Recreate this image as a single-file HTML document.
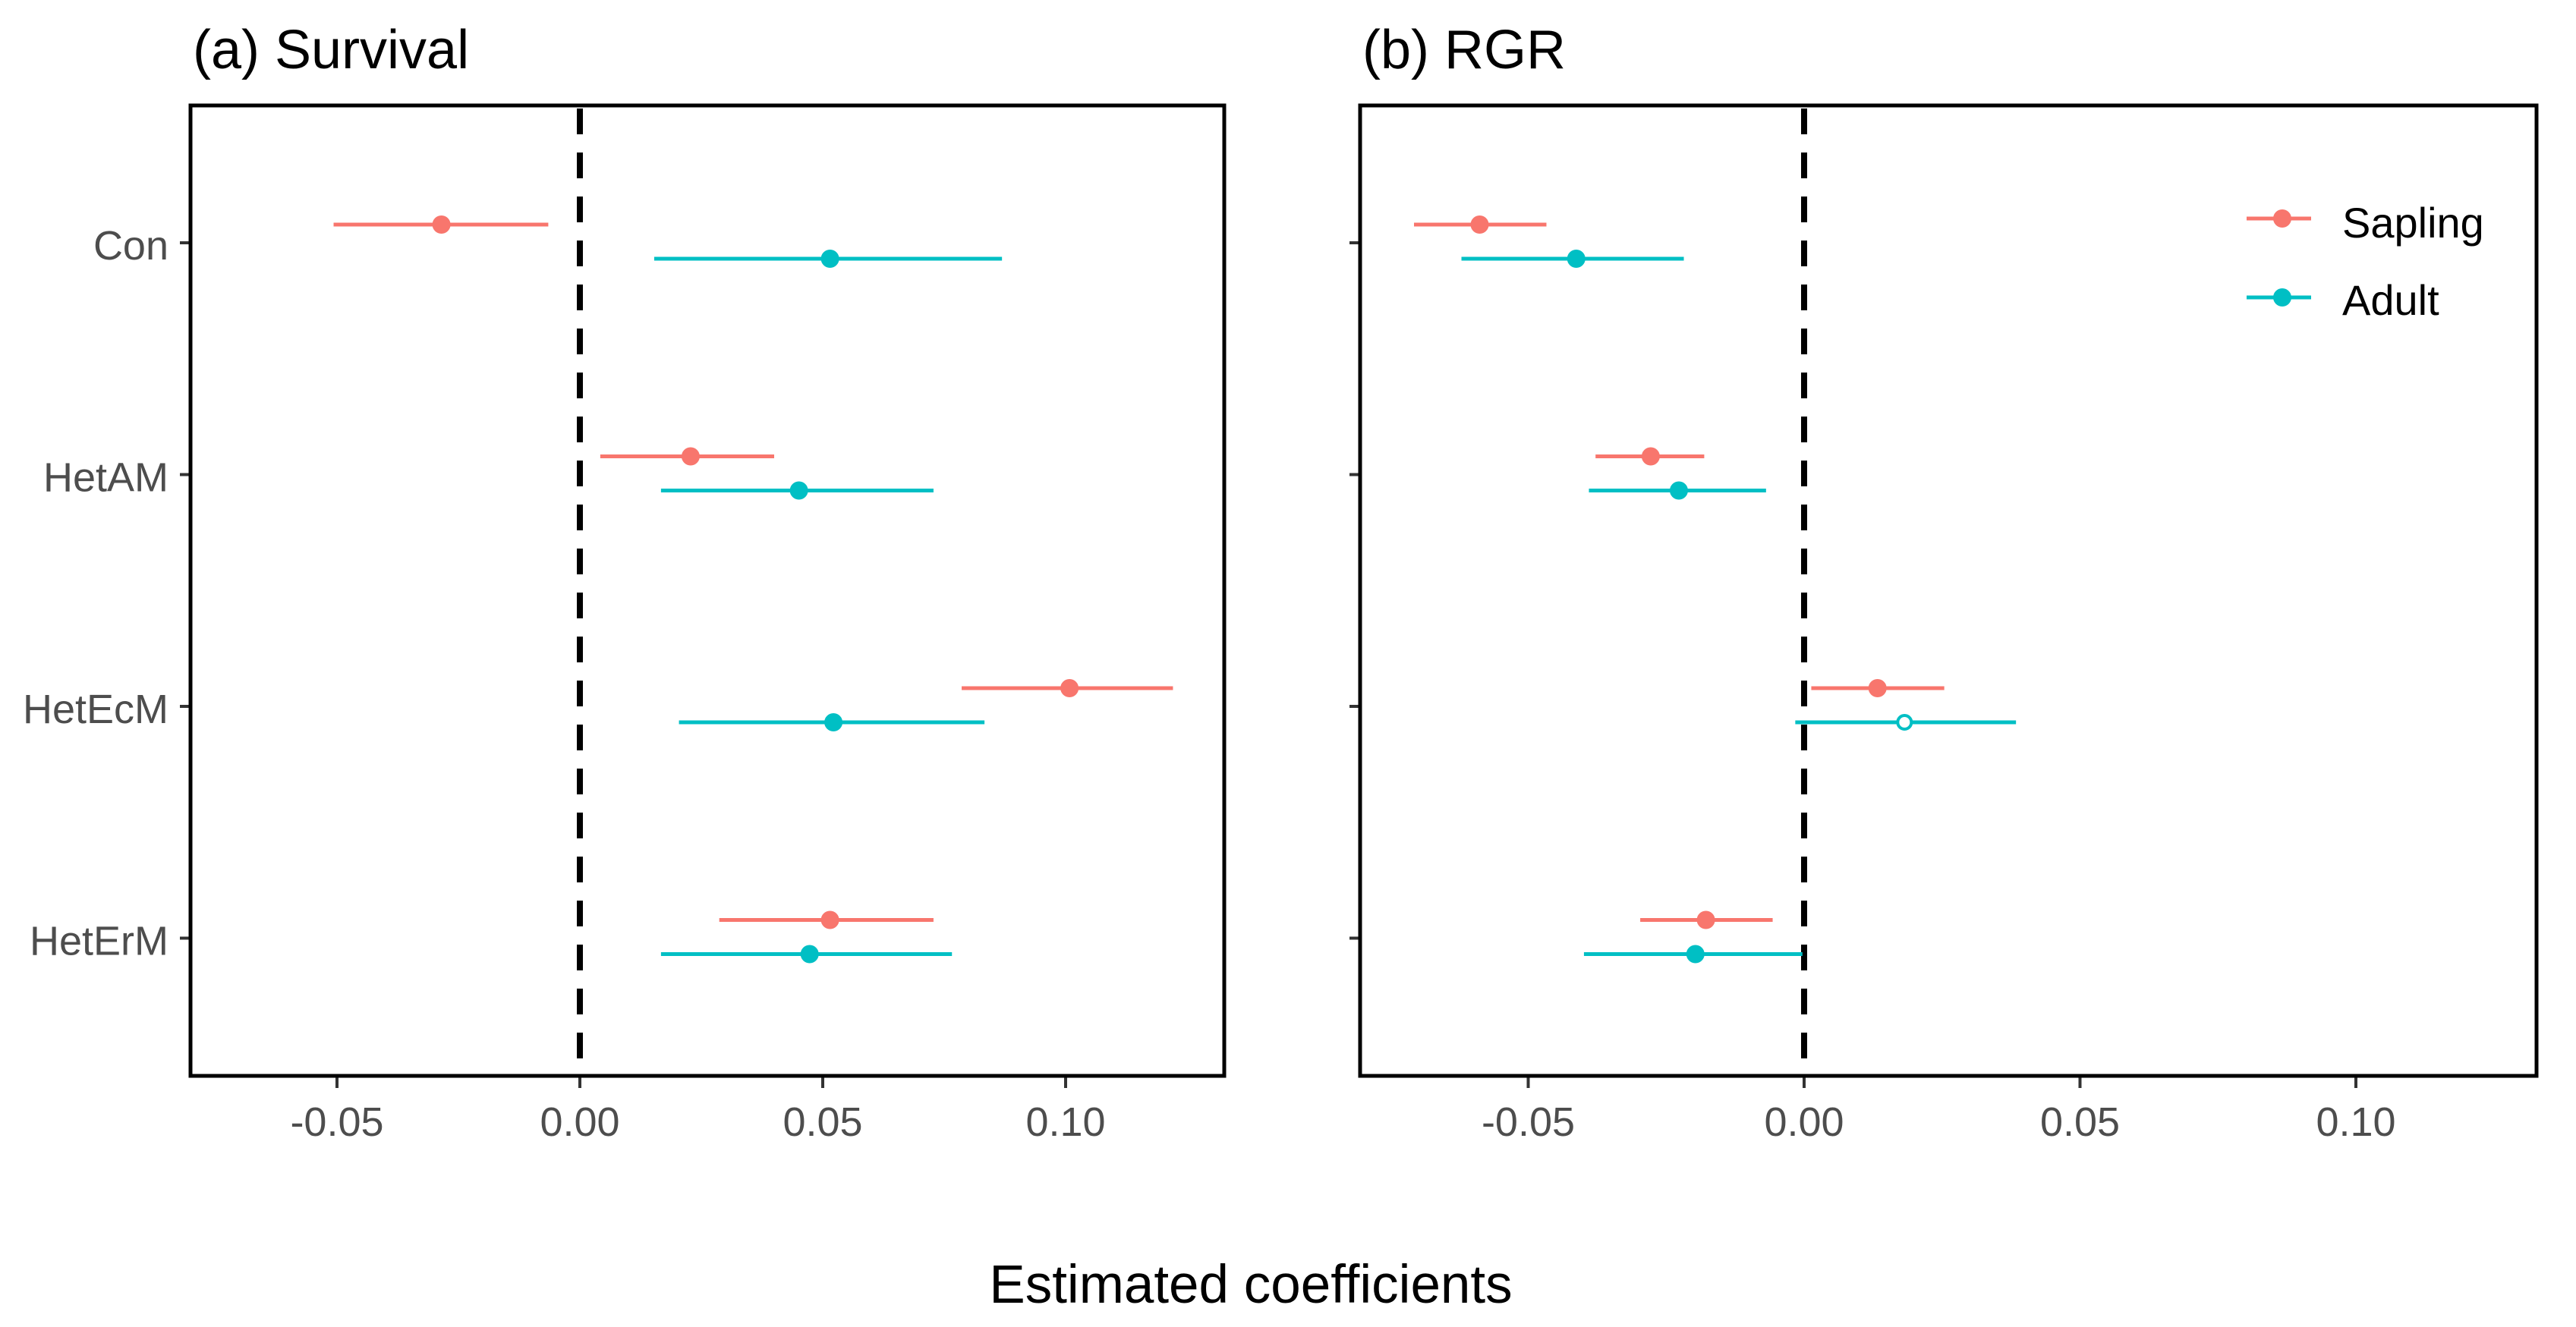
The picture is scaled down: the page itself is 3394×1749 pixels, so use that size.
<!DOCTYPE html>
<html><head><meta charset="utf-8"><style>
html,body{margin:0;padding:0;background:#fff}
svg{display:block}
text{font-family:"Liberation Sans",Arial,sans-serif}
</style></head><body>
<svg id="chart" width="3394" height="1749" viewBox="0 0 3394 1749" xmlns="http://www.w3.org/2000/svg"></svg>
<script>
const categories = ["Con","HetAM","HetEcM","HetErM"];
const xTicks = [-0.05, 0.00, 0.05, 0.10];
const xTickLabels = ["-0.05","0.00","0.05","0.10"];
const survSapEst = [-0.0285, 0.0228, 0.1008, 0.0515];
const survSapLo  = [-0.0507, 0.0042, 0.0786, 0.0287];
const survSapHi  = [-0.0065, 0.0400, 0.1221, 0.0728];
const survAduEst = [0.0515, 0.0451, 0.0522, 0.0473];
const survAduLo  = [0.0153, 0.0167, 0.0204, 0.0167];
const survAduHi  = [0.0869, 0.0728, 0.0833, 0.0766];
const rgrSapEst = [-0.0588, -0.0278, 0.0133, -0.0178];
const rgrSapLo  = [-0.0707, -0.0378, 0.0013, -0.0297];
const rgrSapHi  = [-0.0467, -0.0181, 0.0254, -0.0057];
const rgrAduEst = [-0.0413, -0.0227, 0.0182, -0.0197];
const rgrAduLo  = [-0.0621, -0.0390, -0.0016, -0.0399];
const rgrAduHi  = [-0.0218, -0.0069, 0.0384, -0.0003];
const rgrAduSig = [true, true, false, true];
const survAduSig = [true, true, true, true];
const rgrSapSig = [true, true, true, true];
const survSapSig = [true, true, true, true];

const NS = "http://www.w3.org/2000/svg";
const svg = document.getElementById("chart");
const SAP = "#F8766D", ADU = "#00BFC4";
function mk(tag, attrs, parent){const e=document.createElementNS(NS,tag);for(const k in attrs)e.setAttribute(k,attrs[k]);(parent||svg).appendChild(e);return e;}
const yCat = i => 320 + i*305.5;

function panel(o){
  const g = mk("g",{});
  
  
  const x = v => o.zero + v*o.scale;
  const t = mk("text",{x:o.left+3,y:90,"font-size":72,fill:"#000"},g);
  t.textContent = o.title;
  
  
  xTicks.forEach((v,i)=>{
    const tk = mk("line",{x1:x(v),x2:x(v),y1:1420,y2:1434,stroke:"#333","stroke-width":4},g);
    
    
    const tl = mk("text",{x:x(v),y:1497,"font-size":54,fill:"#4D4D4D","text-anchor":"middle"},g);
    tl.textContent = xTickLabels[i];
    
    
  });
  categories.forEach((c,i)=>{
    const tk = mk("line",{x1:o.left-14,x2:o.left,y1:yCat(i),y2:yCat(i),stroke:"#333","stroke-width":4},g);
    
    
    if(o.labels){
      const tl = mk("text",{x:222,y:yCat(i)+22,"font-size":54,fill:"#4D4D4D","text-anchor":"end"},g);
      tl.textContent = c;
      
      
    }
  });
  const zl = mk("line",{x1:x(0),x2:x(0),y1:143,y2:1418,stroke:"#000","stroke-width":8,"stroke-dasharray":"34,24"},g);
  
  
  const series = [
    {est:o.sEst,lo:o.sLo,hi:o.sHi,sig:o.sSig,col:SAP,off:-24,n:"sapling"},
    {est:o.aEst,lo:o.aLo,hi:o.aHi,sig:o.aSig,col:ADU,off:21,n:"adult"}];
  series.forEach(s=>{
    categories.forEach((c,i)=>{
      const y = yCat(i)+s.off;
      const l = mk("line",{x1:x(s.lo[i]),x2:x(s.hi[i]),y1:y,y2:y,stroke:s.col,"stroke-width":5},g);
      
      
      const p = mk("circle",{cx:x(s.est[i]),cy:y,r:s.sig[i]?12:9,fill:s.sig[i]?s.col:"#fff",stroke:s.col,"stroke-width":s.sig[i]?0:4},g);
      
      
    });
  });
  const fr = mk("rect",{x:o.left,y:139,width:o.right-o.left,height:1279,fill:"none",stroke:"#000","stroke-width":5},g);
  
  
}
panel({name:"panel-survival",title:"(a) Survival",left:251,right:1613,zero:764,scale:6400,labels:true,
  sEst:survSapEst,sLo:survSapLo,sHi:survSapHi,sSig:survSapSig,aEst:survAduEst,aLo:survAduLo,aHi:survAduHi,aSig:survAduSig});
panel({name:"panel-rgr",title:"(b) RGR",left:1792,right:3342,zero:2377,scale:7270,labels:false,
  sEst:rgrSapEst,sLo:rgrSapLo,sHi:rgrSapHi,sSig:rgrSapSig,aEst:rgrAduEst,aLo:rgrAduLo,aHi:rgrAduHi,aSig:rgrAduSig});

const lg = mk("g",{});


[["Sapling",SAP,288,313],["Adult",ADU,392,415]].forEach(([lab,col,y,by])=>{
  const e = mk("g",{},lg);
  
  
  mk("line",{x1:2960,x2:3045,y1:y,y2:y,stroke:col,"stroke-width":5},e);
  mk("circle",{cx:3007,cy:y,r:12,fill:col},e);
  const t = mk("text",{x:3086,y:by,"font-size":56,fill:"#000"},e);
  t.textContent = lab;
});
const at = mk("text",{x:1648,y:1717,"font-size":71,fill:"#000","text-anchor":"middle"});
at.textContent = "Estimated coefficients";


</script>
</body></html>
